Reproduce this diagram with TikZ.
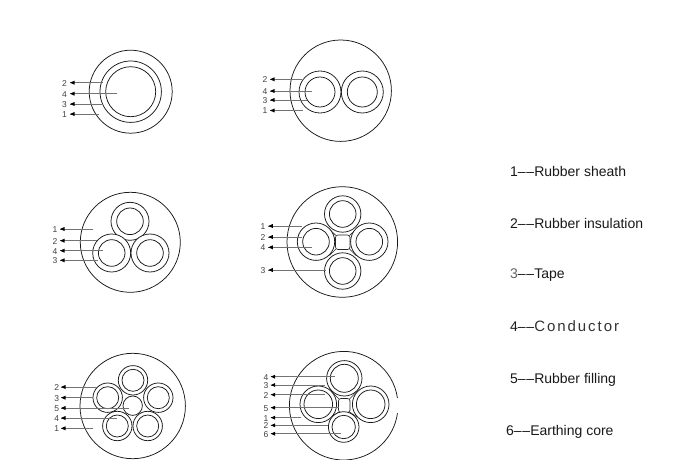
\documentclass[tikz,border=0pt]{standalone}
\usepackage{fontspec}
\setmainfont{Liberation Sans}
\definecolor{lead}{gray}{0.45}
\newcommand{\dd}{–\kern0.7pt–}
\tikzset{
  ring/.style={draw=black!90,line width=0.75pt,fill=white},
  sheath/.style={draw=black!90,line width=0.75pt},
  filler/.style={draw=black!85,line width=0.65pt},
  lab/.style={font=\fontsize{8.5}{10}\selectfont,inner sep=0pt,text=black!75},
  legend/.style={font=\fontsize{14}{16}\selectfont,anchor=west,inner sep=0pt,text=black!90},
  leader/.style={draw=lead,line width=0.6pt},
  tip/.style={fill=black,draw=none}
}
% \core{x}{y}{router}{rinner}
\newcommand{\core}[4]{%
  \draw[ring] (#1,#2) circle[radius=#3];
  \draw[ring] (#1,#2) circle[radius=#4];
}
% \callout{id}{text}{label x}{arrow start x}{y}{end x}
\newcommand{\callout}[6]{%
  \node[lab] (t#1) at (#3,#5+0.5) {#2};
  \coordinate (s#1) at (#4,#5);
  \coordinate (e#1) at (#6,#5);
  \draw[leader] (s#1) -- (e#1);
  \fill[tip] (s#1) -- ++(4.5,-2) -- ++(0,4) -- cycle;
}
\begin{document}
\begin{tikzpicture}[x=1pt,y=-1pt]
\useasboundingbox (0,0) rectangle (678,460);
\fill[white] (0,0) rectangle (678,460);

% diagram 1
\draw[sheath] (130.7,91.7) circle[radius=41.5];
\core{130.7}{91.7}{30.7}{25}
\callout{a2}{2}{64.5}{70}{82.7}{103.3}
\callout{a4}{4}{64.5}{70}{93.7}{116.7}
\callout{a3}{3}{64.5}{70}{104}{103}
\callout{a1}{1}{64.5}{70}{114}{99.3}

% diagram 2
\draw[sheath] (340.7,90.7) circle[radius=50.7];
\core{320}{92}{21}{15}
\core{362.3}{92}{21}{15}
\callout{b2}{2}{265}{270}{79.3}{301.7}
\callout{b4}{4}{265}{270}{91}{311.7}
\callout{b3}{3}{265}{270}{100}{306.7}
\callout{b1}{1}{265}{270}{110.5}{302.7}

% diagram 3
\draw[sheath] (130.3,242.3) circle[radius=50];
\core{130}{221.3}{19}{13.3}
\core{111.7}{253}{19}{13.3}
\core{150}{253}{19}{13.3}
\callout{c1}{1}{55}{60}{229}{93.3}
\callout{c2}{2}{55}{60}{240.7}{96.7}
\callout{c4}{4}{55}{60}{250.7}{103.3}
\callout{c3}{3}{55}{60}{260.3}{98.3}

% diagram 4
\draw[sheath] (342.3,242) circle[radius=55.3];
\draw[filler,rounded corners=2.5pt] (335.5,235) rectangle (350,249.5);
\draw[filler] (336,235.5) -- (329.5,229.5) (349.5,235.5) -- (356,229.5)
              (349.5,249) -- (356,255.5) (336,249) -- (329.5,255.5);
\core{342.7}{214}{18.2}{13.3}
\core{342.7}{271}{18.2}{13.3}
\core{316}{241.7}{18.7}{13.3}
\core{369.3}{241.7}{18.7}{13.3}
\callout{d1}{1}{263}{268.3}{226}{301.7}
\callout{d2}{2}{263}{268.3}{237}{301.7}
\callout{d4}{4}{263}{268.3}{247.3}{311.7}
\callout{d3}{3}{263}{268.3}{270}{326}

% diagram 5
\draw[sheath] (132.7,406) circle[radius=52.7];
\draw[ring] (132.7,405.7) circle[radius=9.7];
\core{133}{380.3}{14.7}{11}
\core{107.7}{397.7}{14.7}{11}
\core{158.3}{397.7}{14.7}{11}
\core{117.3}{426}{14.7}{11}
\core{147.7}{426}{14.7}{11}
\callout{e2}{2}{56.7}{61}{387}{96.7}
\callout{e3}{3}{56.7}{61}{397.7}{93.3}
\callout{e5}{5}{56.7}{61}{408}{129.3}
\callout{e4}{4}{56.7}{61}{418}{116.7}
\callout{e1}{1}{56.7}{61}{428.3}{92.7}

% diagram 6
\draw[sheath] (343.7,405.7) ++(-8:54.3) arc[start angle=-8,end angle=-352,radius=54.3];
\draw[filler,rounded corners=2.5pt] (338.5,398.5) rectangle (350,412.5);
\draw[filler] (339,399) -- (331.5,391.5) (349.5,399) -- (357,391.5)
              (349.5,412) -- (357,417) (339,412) -- (332.5,416);
\core{344.3}{378.3}{17.7}{14}
\core{318.3}{404.3}{18.3}{14.3}
\core{370.7}{404.3}{18.3}{14.3}
\core{343.7}{427}{15.3}{11.7}
\callout{f4}{4}{266}{270.7}{376.7}{335}
\callout{f3}{3}{266}{270.7}{385}{325}
\callout{f2}{2}{266}{270.7}{394.7}{325}
\callout{f5}{5}{266}{270.7}{407.7}{339}
\callout{f1}{1}{266}{270.7}{417.7}{300.7}
\callout{f7}{2}{266}{270.7}{425.3}{328.3}
\callout{f6}{6}{266}{270.7}{433.7}{340.7}

% legend
\node[legend] (l1) at (510,171) {1\dd Rubber sheath};
\node[legend] (l2) at (510,223) {2\dd Rubber insulation};
\node[legend] (l3) at (510,275.5) {{\color{black!60}3}\dd Tape};
\node[legend] (l4) at (510,326) {4\dd{\fontsize{15}{16}\selectfont\addfontfeature{LetterSpace=13}\color{black!80}Conductor}};
\node[legend] (l5) at (510,379.5) {5\dd Rubber filling};
\node[legend] (l6) at (506,432) {6\dd Earthing core};
\end{tikzpicture}
\end{document}
